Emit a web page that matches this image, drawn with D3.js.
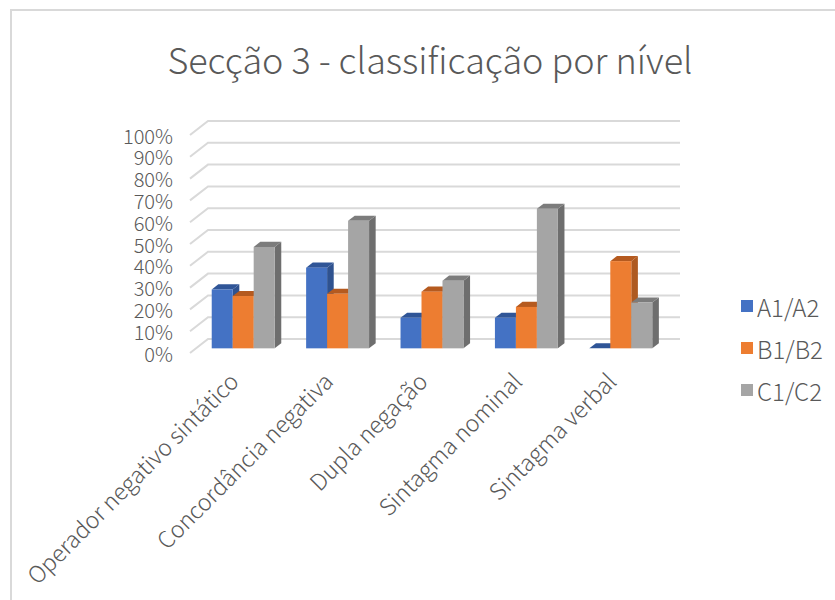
<!DOCTYPE html>
<html>
<head>
<meta charset="utf-8">
<script src="https://cdn.jsdelivr.net/npm/d3@7"></script>
<style>
  html, body { margin: 0; padding: 0; background: #fff; }
  svg { display: block; }
  text { font-family: "Noto Sans CJK SC", "Noto Sans", sans-serif; font-weight: 300; fill: #595959; }
</style>
</head>
<body>
<svg id="chart" width="835" height="600"></svg>
<script>
// Chart data
const categories = [
  "Operador negativo sintático",
  "Concordância negativa",
  "Dupla negação",
  "Sintagma nominal",
  "Sintagma verbal"
];
const seriesNames = ["A1/A2", "B1/B2", "C1/C2"];
const valuesA = [27, 37, 14, 14, 0];
const valuesB = [24, 25, 26, 19, 40];
const valuesC = [46.5, 58.5, 31, 64, 21];
const yTicks = [0, 10, 20, 30, 40, 50, 60, 70, 80, 90, 100];
const titleText = "Secção 3 - classificação por nível";

const seriesValues = [valuesA, valuesB, valuesC];
const faceColors = ["#4472C4", "#ED7D31", "#A5A5A5"];
const topColors  = ["#2F5597", "#B55A1F", "#7C7C7C"];
const sideColors = ["#2F528F", "#AE5A21", "#6E6E6E"];

const svg = d3.select("#chart");

// Outer chart border
svg.append("rect")
  .attr("x", 11).attr("y", 10)
  .attr("width", 900).attr("height", 700)
  .attr("fill", "none").attr("stroke", "#d9d9d9").attr("stroke-width", 2);

// Title
svg.append("text")
  .attr("x", 430).attr("y", 58)
  .attr("text-anchor", "middle")
  .attr("dominant-baseline", "central")
  .style("font-size", "36px")
  .text(titleText);

// 3D projection: front plane scales plus a depth vector
const x = d3.scaleBand().domain(categories).range([190, 662]);
const y = d3.scaleLinear().domain([0, 100]).range([353, 135]);
const depth = { dx: 18, dy: -14 };
const barDepth0 = 0.333, barDepth1 = 0.70;

// Gridlines (side wall diagonal + back wall horizontal)
const grid = svg.append("g");
yTicks.forEach(t => {
  const yf = y(t);
  grid.append("polyline")
    .attr("points", [
      [x.range()[0], yf],
      [x.range()[0] + depth.dx, yf + depth.dy],
      [x.range()[1] + depth.dx, yf + depth.dy]
    ].map(p => p.join(",")).join(" "))
    .attr("fill", "none")
    .attr("stroke", "#d9d9d9")
    .attr("stroke-width", 2);
});

// Y tick labels
svg.append("g").selectAll("text")
  .data(yTicks).join("text")
  .attr("x", 173).attr("y", d => y(d))
  .attr("text-anchor", "end")
  .attr("dominant-baseline", "central")
  .style("font-size", "20px")
  .text(d => d + "%");

// Bars
const nS = seriesNames.length;
const bw = x.bandwidth() / (nS + 1.5);
const xs = d3.scaleBand().domain(d3.range(nS)).range([0, bw * nS]);
const ox0 = depth.dx * barDepth0, oy0 = depth.dy * barDepth0;
const ddx = depth.dx * (barDepth1 - barDepth0), ddy = depth.dy * (barDepth1 - barDepth0);

const bars = [];
categories.forEach((c, ci) => {
  seriesValues.forEach((vals, si) => {
    bars.push({ c, si, v: vals[ci] });
  });
});

const barG = svg.append("g");
bars.forEach(b => {
  const x0 = x(b.c) + (x.bandwidth() - bw * nS) / 2 + xs(b.si) + ox0;
  const x1 = x0 + xs.bandwidth();
  const yb = y(0) + oy0;
  const yt = y(b.v) + oy0;
  const g = barG.append("g");
  // side face
  if (b.v > 0) {
    g.append("polygon")
      .attr("points", [[x1, yb], [x1 + ddx, yb + ddy], [x1 + ddx, yt + ddy], [x1, yt]].map(p => p.join(",")).join(" "))
      .attr("fill", sideColors[b.si]);
  }
  // top face
  g.append("polygon")
    .attr("points", [[x0, yt], [x0 + ddx, yt + ddy], [x1 + ddx, yt + ddy], [x1, yt]].map(p => p.join(",")).join(" "))
    .attr("fill", topColors[b.si]);
  // front face
  if (b.v > 0) {
    g.append("rect")
      .attr("x", x0).attr("y", yt)
      .attr("width", x1 - x0).attr("height", yb - yt)
      .attr("fill", faceColors[b.si]);
  }
});

// Category labels, rotated
svg.append("g").selectAll("text")
  .data(categories).join("text")
  .attr("transform", d => `translate(${x(d) + x.bandwidth() / 2 - 4},${376}) rotate(-45)`)
  .attr("text-anchor", "end")
  .attr("dominant-baseline", "central")
  .style("font-size", "23px")
  .text(d => d);

// Legend
const legend = svg.append("g");
seriesNames.forEach((s, i) => {
  const ly = 306 + i * 42;
  legend.append("rect")
    .attr("x", 741).attr("y", ly - 6)
    .attr("width", 12).attr("height", 12)
    .attr("fill", faceColors[i]);
  legend.append("text")
    .attr("x", 757).attr("y", ly)
    .attr("dominant-baseline", "central")
    .style("font-size", "24px")
    .text(s);
});
</script>
</body>
</html>
